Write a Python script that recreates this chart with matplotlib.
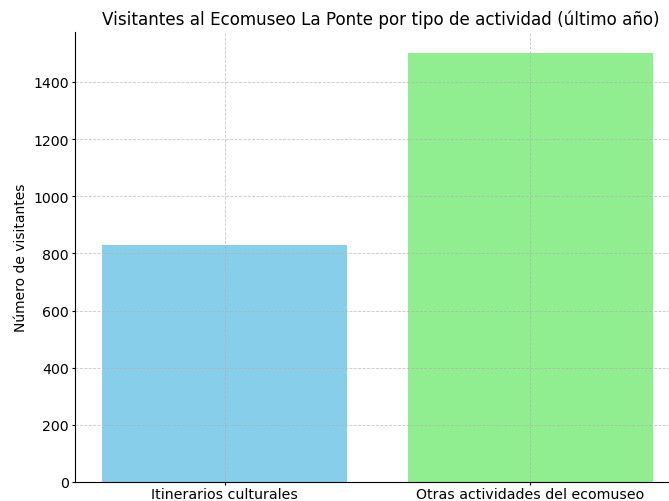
import matplotlib
matplotlib.use("Agg")
import matplotlib.pyplot as plt

categories = ["Itinerarios culturales", "Otras actividades del ecomuseo"]
visitors = [830, 1500]
colors = ["skyblue", "lightgreen"]

fig = plt.figure(figsize=(6.69, 5.02), dpi=100)
ax = fig.add_axes([75/669, (502-483)/502, 605/669, 450/502])
ax.bar(categories, visitors, color=colors)
ax.set_title("Visitantes al Ecomuseo La Ponte por tipo de actividad (último año)",
             fontsize=12.1, x=0.505)
ax.set_ylabel("Número de visitantes", fontsize=10)
ax.grid(True, linestyle="--", linewidth=0.6, alpha=0.7)
ax.tick_params(axis="both", length=2.5, pad=2, labelsize=10.2)
ax.tick_params(axis="x", pad=1)
ax.spines["top"].set_visible(False)
ax.spines["right"].set_visible(False)
fig.savefig("out.png", dpi=100)
